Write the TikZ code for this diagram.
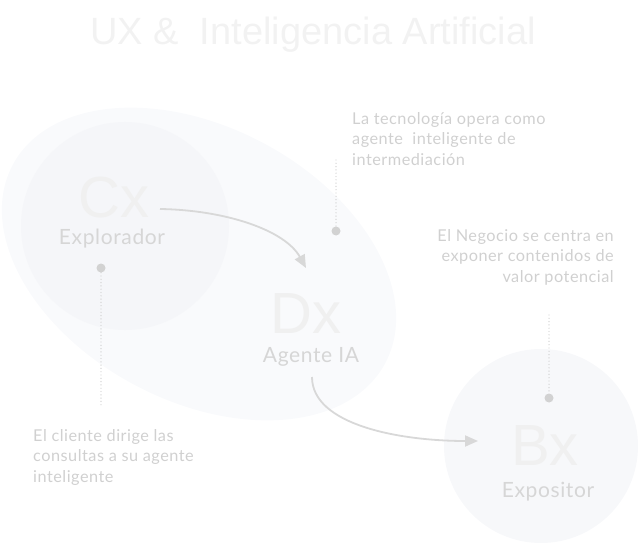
\documentclass[tikz,border=0pt]{standalone}
\usepackage{fontspec}
\setmainfont{Lato}
\newfontfamily\titlefont{Liberation Sans}
\newfontfamily\spacedfont[LetterSpace=3]{Lato}
\usetikzlibrary{arrows.meta}
\definecolor{bgell}{HTML}{F9FAFC}
\definecolor{cxfill}{HTML}{F5F6F9}
\definecolor{bxfill}{HTML}{F7F8FA}
\definecolor{bigtxt}{HTML}{F0F0F0}
\definecolor{lbltxt}{HTML}{D6D6D6}
\definecolor{desctxt}{HTML}{D0D0D0}
\definecolor{arrcol}{HTML}{D8D8D8}
\definecolor{dotcol}{HTML}{D2D2D2}
\definecolor{titlecol}{HTML}{F2F2F2}
\tikzset{
  bigletters/.style={text=bigtxt, font=\titlefont\fontsize{58}{58}\selectfont, inner sep=0pt, anchor=base, text depth=0pt},
  rolelabel/.style={text=lbltxt, font=\spacedfont\fontsize{21}{21}\selectfont, inner sep=0pt, anchor=base},
  desc/.style={text=desctxt, font=\spacedfont\fontsize{16.3}{20.5}\selectfont, inner sep=0pt},
  conn/.style={draw=arrcol, line width=1.8pt, -{Triangle[length=13pt,width=11pt]}},
  dotline/.style={draw=dotcol, line width=1.4pt, dash pattern=on 0pt off 3.3pt, line cap=round},
  dotend/.style={circle, fill=dotcol, minimum size=9pt, inner sep=0pt},
}
\begin{document}
\begin{tikzpicture}[x=1pt,y=-1pt]
\useasboundingbox (0,0) rectangle (641,543);
% background shapes
\fill[bgell, rotate around={-28:(199,264)}] (199,264) ellipse [x radius=211, y radius=137];
\fill[cxfill] (125,226) circle [radius=104];
\fill[bxfill] (541,446) circle [radius=97];
% title
\node[text=titlecol, font=\titlefont\fontsize{38}{38}\selectfont, inner sep=0pt] (title) at (313,35) {UX \&\ \ Inteligencia Artificial};
% big letters
\node[bigletters] (cx) at (114,217) {Cx};
\node[rolelabel] (cxl) at (112,244) {Explorador};
\node[bigletters] (dx) at (306,333) {Dx};
\node[rolelabel] (dxl) at (311,362) {Agente IA};
\node[bigletters] (bx) at (545,465) {Bx};
\node[rolelabel] (bxl) at (548,497) {Expositor};
% descriptions
\node[desc, anchor=north west, align=left] (d1) at (352,112) {La tecnología opera como\\agente\ \ inteligente de\\intermediación};
\node[desc, anchor=north east, align=right] (d2) at (614,229) {El Negocio se centra en\\exponer contenidos de\\valor potencial};
\node[desc, anchor=north west, align=left] (d3) at (33,429) {El cliente dirige las\\consultas a su agente\\inteligente};
% dotted leaders
\node[dotend] (p1) at (101,268) {};
\coordinate (q1) at (101,407);
\draw[dotline] (p1) -- (q1);
\node[dotend] (p2) at (336,231) {};
\coordinate (q2) at (336,160);
\draw[dotline] (q2) -- (p2);
\node[dotend] (p3) at (549,398) {};
\coordinate (q3) at (549,315);
\draw[dotline] (q3) -- (p3);
% arrows
\coordinate (a1s) at (160,209);
\coordinate (a1e) at (306,268);
\draw[conn] (a1s) .. controls (225,210) and (285,230) .. (a1e);
\coordinate (a2s) at (312,377);
\coordinate (a2e) at (478,441);
\draw[conn] (a2s) .. controls (312,425) and (400,441) .. (a2e);
\end{tikzpicture}
\end{document}
